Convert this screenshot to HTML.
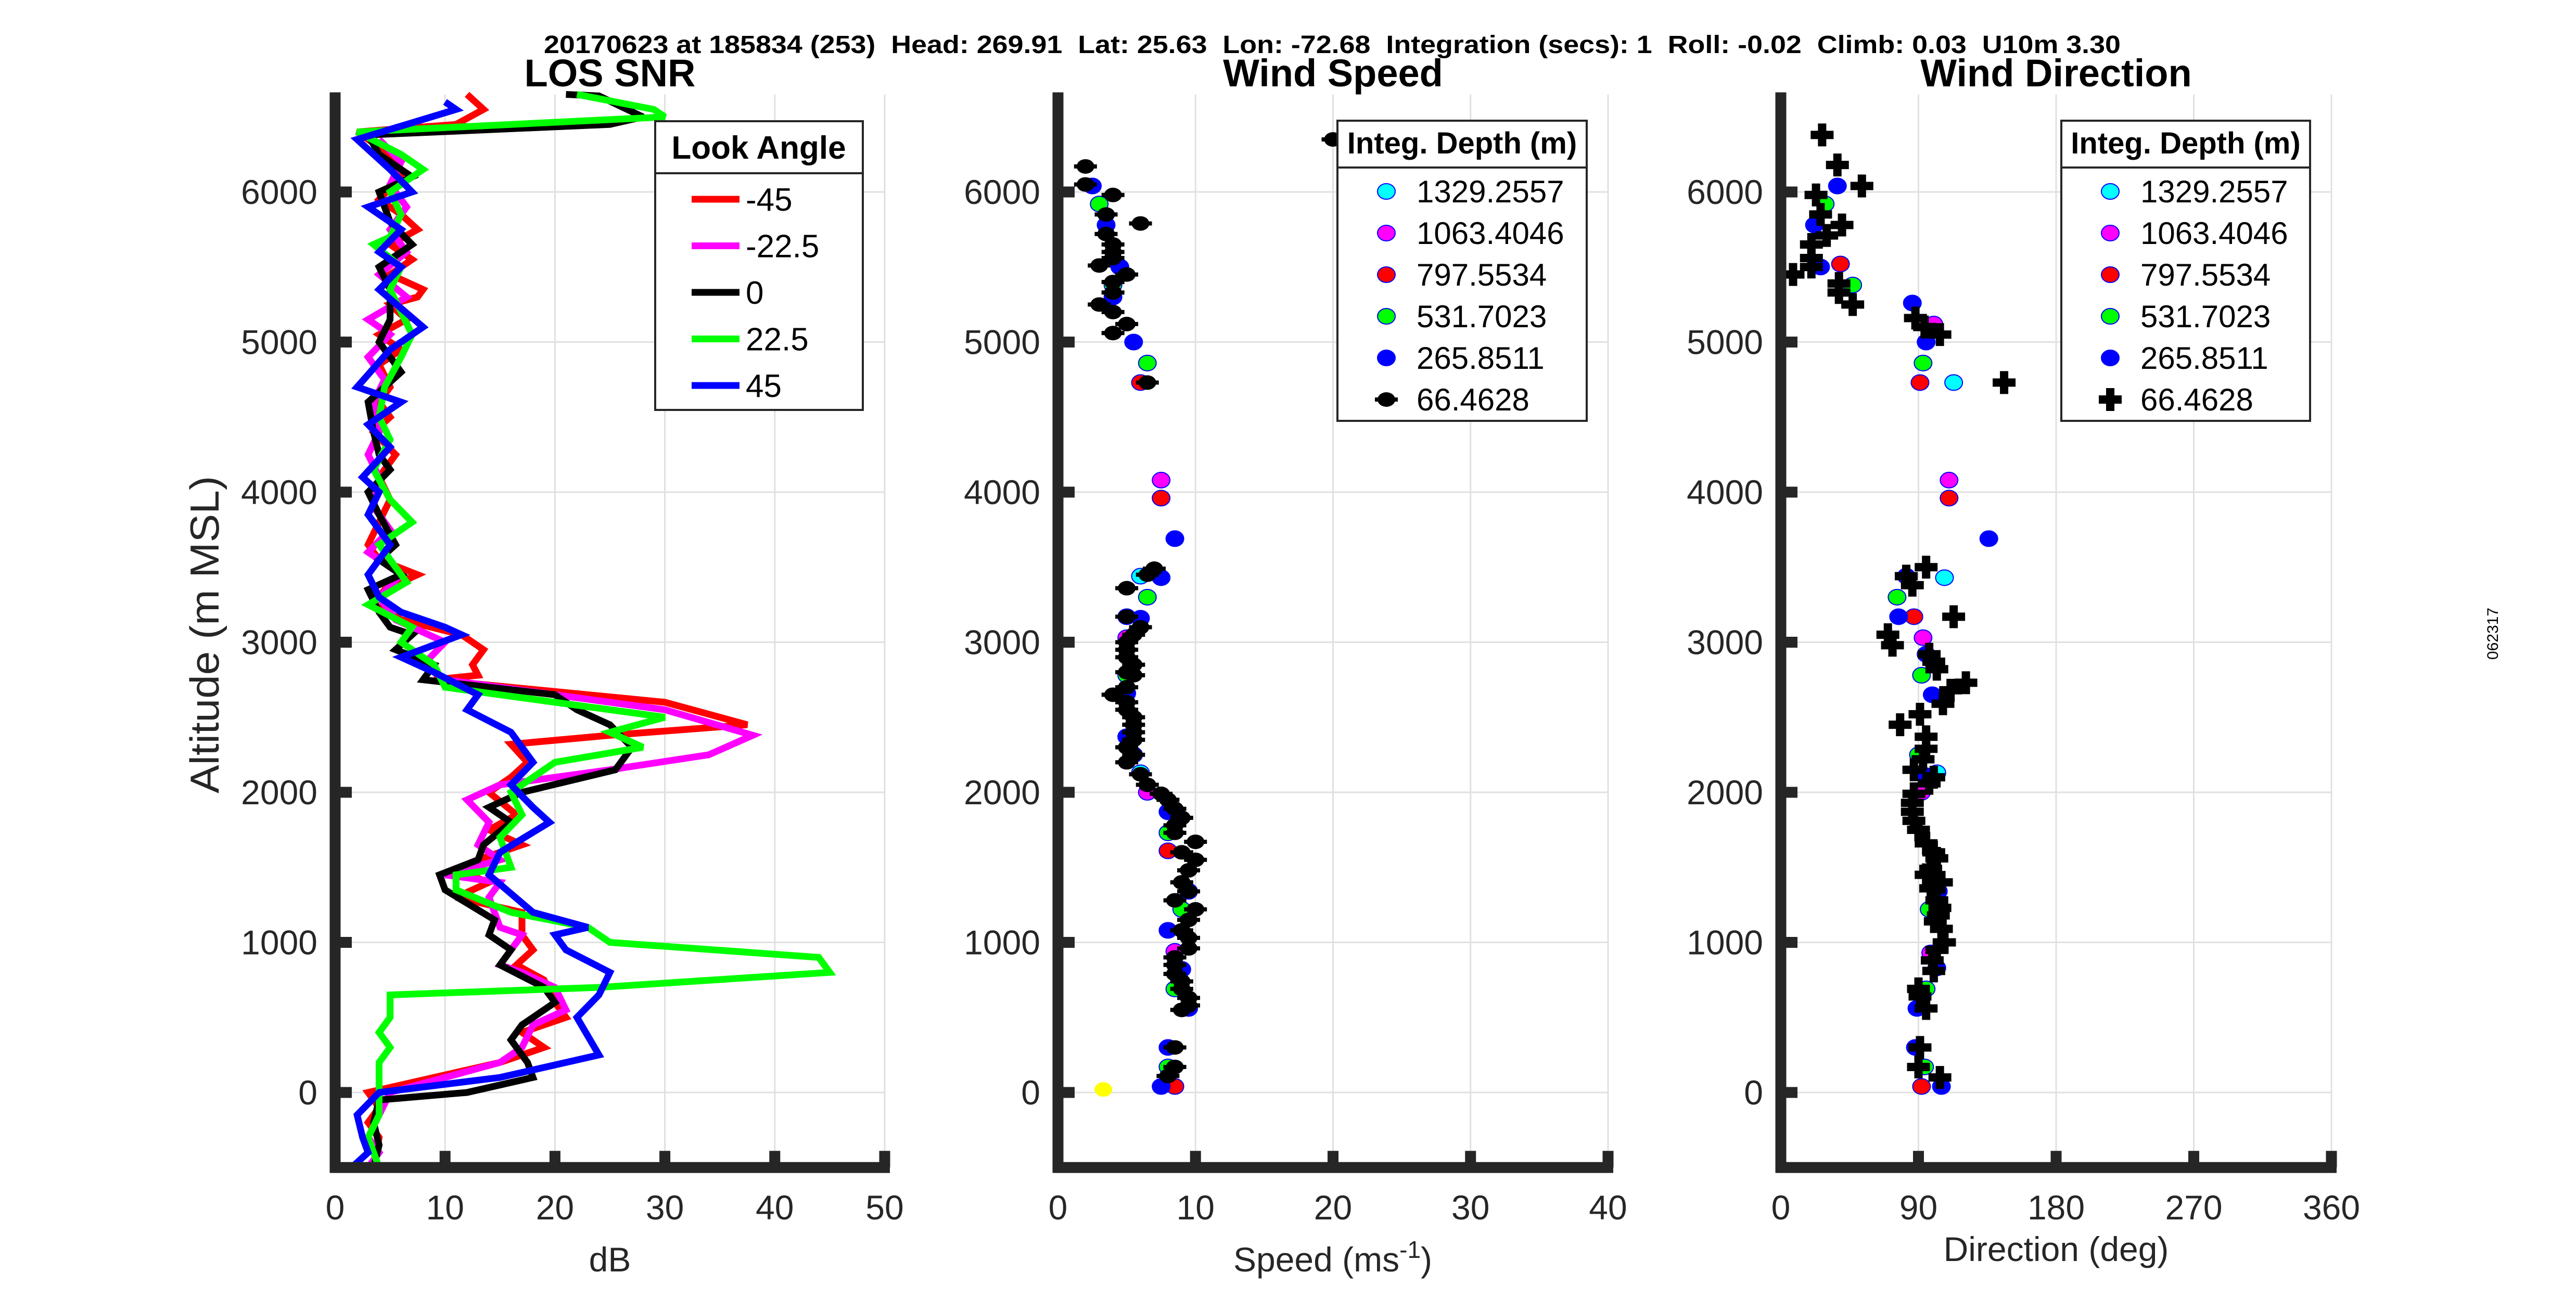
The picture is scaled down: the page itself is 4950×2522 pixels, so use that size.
<!DOCTYPE html>
<html><head><meta charset="utf-8"><style>
html,body{margin:0;padding:0;background:#fff;}
svg{display:block;font-family:"Liberation Sans",Arial,sans-serif;}
</style></head><body>
<svg id="fig" width="4950" height="2522" viewBox="0 0 4950 2522" xmlns="http://www.w3.org/2000/svg">
<rect x="0" y="0" width="4950" height="2522" fill="#fff"/>
<text x="2560" y="102" font-size="48" font-weight="bold" text-anchor="middle" textLength="3030" lengthAdjust="spacingAndGlyphs" xml:space="preserve">20170623 at 185834 (253)  Head: 269.91  Lat: 25.63  Lon: -72.68  Integration (secs): 1  Roll: -0.02  Climb: 0.03  U10m 3.30</text>
<text x="4800" y="1218" font-size="30" text-anchor="middle" transform="rotate(-90 4800 1218)">062317</text>
<g id="g1"></g>
<g id="g2"></g>
<g id="g3"></g>
</svg>
<script>
// ---- data ----
const snrRed=[[12,6650],[13.5,6550],[11,6450],[2,6400],[5,6250],[6,6100],[4,5950],[6,5850],[7.5,5750],[5,5650],[7,5550],[5,5450],[8,5350],[7.5,5300],[5,5250],[6.5,5150],[4,5050],[6,4950],[4,4850],[5,4700],[4,4600],[5,4500],[3.5,4400],[5.5,4250],[4,4100],[5,3950],[4,3800],[3,3650],[4,3550],[7.5,3450],[4.5,3350],[3.5,3250],[6,3150],[11.5,3050],[13.5,2950],[12.5,2850],[13,2780],[9,2750],[30,2600],[37.5,2450],[25,2380],[16,2320],[17.5,2200],[16,2100],[14,2000],[16.5,1850],[14,1750],[17,1650],[13,1550],[11,1480],[14,1400],[11,1300],[17,1200],[17,1050],[18,950],[16.5,850],[19,750],[20,600],[21,500],[17,400],[19,300],[15,200],[3,0],[4,-100],[3,-200],[4,-300],[3.5,-500]];
const snrMagenta=[[4,6350],[6,6200],[5,6050],[6.5,5900],[5,5750],[6.5,5600],[4,5450],[6.5,5300],[3,5150],[5,5050],[3,4900],[4.5,4750],[3.5,4600],[4,4400],[3,4250],[4,4100],[3.5,3900],[5,3750],[3,3600],[6,3450],[4,3300],[5.5,3150],[10,3000],[8,2850],[10,2750],[30,2550],[38,2380],[34,2250],[25,2150],[15,2050],[12,1950],[14,1800],[13,1650],[15,1550],[10,1450],[15,1400],[14,1300],[15,1100],[17,1050],[15,850],[17,800],[20,700],[21,550],[18,450],[17,300],[15,200],[5,0],[4,-150],[3,-300],[4,-400],[3,-500]];
const snrBlack=[[21,6650],[24,6640],[28,6500],[25,6450],[3,6380],[4,6250],[7,6100],[4,6000],[5,5800],[7,5650],[4,5500],[5,5350],[5,5150],[4,5000],[6,4800],[3,4600],[3.5,4400],[4,4250],[5,4150],[3,4000],[4,3850],[5.5,3650],[4,3550],[6,3450],[3,3350],[4,3200],[5,3100],[7,3050],[5.5,2950],[9,2850],[8,2750],[20,2650],[22,2550],[25,2450],[27,2300],[25.5,2150],[17,2000],[14,1900],[16,1800],[13.5,1650],[13,1550],[9.5,1450],[10,1350],[14.5,1150],[14,1050],[16,950],[15,850],[19,700],[20,600],[17,450],[16,350],[17.5,200],[18,100],[12,0],[4,-50],[3.5,-200],[4,-350],[3.5,-500]];
const snrGreen=[[22,6650],[29,6550],[30,6500],[2,6400],[6,6250],[8,6150],[5,6000],[6,5850],[5,5700],[3.5,5650],[6,5500],[5,5350],[6,5200],[7,5050],[6,4900],[4.5,4700],[4,4500],[5,4350],[3.5,4150],[5,3950],[7,3800],[4,3650],[6.5,3400],[3,3250],[7,3100],[6,3000],[9,2850],[10,2700],[20,2600],[30,2500],[25,2400],[28,2300],[20,2200],[16,2000],[17,1850],[15,1700],[16,1500],[11,1450],[11,1350],[16,1200],[23,1100],[25,1000],[44,900],[45,800],[24,700],[5,650],[5,500],[4,400],[5,300],[4,200],[4,50],[4,-150],[3,-300],[4,-500]];
const snrBlue=[[10,6600],[11,6550],[2,6350],[5,6150],[7,6000],[3,5900],[6,5750],[4,5600],[6,5500],[4,5350],[8,5100],[5,4950],[2,4700],[6,4600],[3,4450],[5,4300],[2.5,4100],[4,4000],[3,3850],[5,3650],[3,3450],[4,3300],[6,3200],[10,3100],[11.5,3050],[6,2900],[9,2800],[13,2650],[12,2550],[16,2400],[18,2200],[16,2050],[18,1900],[19.5,1800],[15,1600],[14,1450],[18,1200],[23,1100],[20,1050],[21,950],[25,800],[24,650],[22,500],[24,250],[15,100],[4,0],[2,-150],[2.5,-300],[3,-400],[1.5,-500]];
const snrNames=["-45","-22.5","0","22.5","45"];
const yTicks=[0,1000,2000,3000,4000,5000,6000];
const snrTicks=[0,10,20,30,40,50];
const spdTicks=[0,10,20,30,40];
const dirTicks=[0,90,180,270,360];
const depthNames=["1329.2557","1063.4046","797.5534","531.7023","265.8511","66.4628"];
const spdBlack=[[20,6350],[2,6170],[2,6050],[4,5980],[6,5790],[3.5,5850],[3.5,5720],[4,5650],[4,5600],[3,5510],[4,5560],[5,5450],[4,5400],[4,5330],[3,5250],[4,5200],[5,5120],[4,5060],[6.5,4730],[7,3490],[6.5,3450],[5,3360],[5,3170],[6,3100],[5.5,3050],[5,3000],[5,2950],[5,2900],[5.5,2850],[5,2800],[5.5,2780],[5,2700],[4,2650],[5,2600],[5,2550],[5.5,2500],[5.5,2450],[5.5,2400],[5.5,2350],[5,2300],[5.5,2250],[5,2200],[6,2120],[6.5,2050],[7.5,1990],[8,1950],[8.5,1890],[9,1830],[8.5,1780],[8.5,1730],[10,1670],[9,1600],[10,1550],[9.5,1480],[9,1400],[9.5,1340],[8.5,1280],[10,1220],[9.5,1150],[9,1080],[9.5,1030],[9.5,960],[8.5,900],[8.5,850],[8.5,790],[9,740],[9,690],[9.5,630],[9.5,580],[9,550],[8.5,300],[8.5,170],[8,110]];
const spdCyan=[[6,3440],[6,2130]];
const spdMagenta=[[7.5,4080],[8.5,940],[5,3030],[6.5,2000]];
const spdRed=[[7.5,3960],[6,4730],[5,3170],[8,1610],[8.5,40]];
const spdGreen=[[3,5920],[4,5380],[6.5,4860],[6.5,3300],[8,1730],[9,1220],[8.5,690],[8,170],[5,2780],[5.5,2250]];
const spdBlue=[[2.5,6040],[3.5,5780],[4.5,5500],[4,5300],[5.5,5000],[8.5,3690],[7.5,3430],[6,3160],[5,2660],[5,2370],[8,1870],[9.5,1340],[8,1080],[9,820],[9.5,560],[8,300],[7.5,40]];
const spdYellow=[[3.3,20]];
const dirBlack=[[27,6380],[37,6180],[53,6040],[23,5980],[26,5850],[40,5780],[30,5710],[20,5650],[20,5560],[20,5500],[8,5450],[38,5390],[38,5330],[47,5250],[88,5160],[94,5100],[104,5050],[146,4730],[95,3500],[82,3440],[86,3380],[113,3170],[70,3050],[73,2980],[97,2920],[100,2870],[102,2820],[121,2730],[111,2680],[106,2590],[91,2520],[78,2450],[95,2370],[95,2290],[93,2220],[87,2150],[100,2100],[97,2060],[87,1990],[86,1930],[86,1870],[87,1810],[90,1750],[95,1660],[100,1600],[102,1560],[98,1490],[95,1450],[105,1400],[98,1360],[102,1280],[104,1230],[103,1180],[101,1140],[105,1090],[107,1000],[102,950],[99,880],[100,810],[90,690],[91,640],[95,560],[91,300],[90,170],[104,100]];
const dirCyan=[[113,4730],[107,3430],[102,2130]];
const dirMagenta=[[100,5120],[110,4080],[93,3030],[98,930],[92,2000]];
const dirRed=[[39,5520],[91,4730],[110,3960],[87,3170],[92,40]];
const dirGreen=[[29,5920],[47,5380],[93,4860],[76,3300],[92,2780],[90,2250],[97,1220],[95,690],[94,170]];
const dirBlue=[[37,6040],[22,5780],[26,5500],[86,5260],[95,5000],[136,3690],[82,3440],[77,3170],[95,2920],[99,2650],[95,2110],[103,1340],[102,830],[89,560],[88,300],[105,40]];

// ---- drawing ----
const NS="http://www.w3.org/2000/svg";
function mk(tag,attrs,parent){const e=document.createElementNS(NS,tag);for(const k in attrs)e.setAttribute(k,attrs[k]);parent.appendChild(e);return e;}
const Y0=2100, PER=0.2885, YMIN=-500, YMAX=6650;
function yScale(a){return Y0-a*PER;}
const TOP=yScale(YMAX), BOT=yScale(YMIN);
function makeAxis(g,x0,x1,xmax,xticks){
  const xs=v=>x0+(x1-x0)*v/xmax;
  xticks.forEach(t=>{const l=mk('line',{x1:xs(t),x2:xs(t),y1:TOP,y2:BOT,stroke:'#e0e0e0','stroke-width':3},g);
    });
  yTicks.forEach(t=>{const l=mk('line',{x1:x0,x2:x1,y1:yScale(t),y2:yScale(t),stroke:'#e0e0e0','stroke-width':3},g);
    });
  return xs;
}
function frame(g,x0,x1,xmax,xticks,xs,title){
  const ax=mk('g',{},g);
  
  mk('line',{x1:x0,x2:x0,y1:TOP-4,y2:BOT+10,stroke:'#262626','stroke-width':21},ax);
  mk('line',{x1:x0-10,x2:x1+10,y1:BOT,y2:BOT,stroke:'#262626','stroke-width':21},ax);
  yTicks.forEach(t=>{mk('line',{x1:x0,x2:x0+32,y1:yScale(t),y2:yScale(t),stroke:'#262626','stroke-width':21},ax);
    const tx=mk('text',{x:x0-34,y:yScale(t)+23,'font-size':66,'text-anchor':'end',fill:'#262626'},ax);tx.textContent=t;
    });
  xticks.forEach(t=>{if(t>0)mk('line',{x1:xs(t),x2:xs(t),y1:BOT,y2:BOT-32,stroke:'#262626','stroke-width':21},ax);
    const tx=mk('text',{x:xs(t),y:2344,'font-size':66,'text-anchor':'middle',fill:'#262626'},ax);tx.textContent=t;
    });
  const ti=mk('text',{x:(x0+x1)/2,y:166,'font-size':74,'font-weight':'bold','text-anchor':'middle',fill:'#000'},g);ti.textContent=title;
  
  return ax;
}
// Panel 1
const g1=document.getElementById('g1');
const X1a=644,X1b=1700;
const xs1=makeAxis(g1,X1a,X1b,50,snrTicks);
const cols=['#ff0000','#ff00ff','#000000','#00ff00','#0000ff'];
[snrRed,snrMagenta,snrBlack,snrGreen,snrBlue].forEach((s,i)=>{
  const p=mk('polyline',{points:s.map(d=>xs1(d[0])+','+yScale(d[1])).join(' '),fill:'none',stroke:cols[i],'stroke-width':13,'stroke-linejoin':'miter','stroke-miterlimit':3},g1);
  
  
});
frame(g1,X1a,X1b,50,snrTicks,xs1,'LOS SNR');
const xl1=mk('text',{x:1172,y:2444,'font-size':66,'text-anchor':'middle',fill:'#262626'},g1);xl1.textContent='dB';

const yl=mk('text',{x:420,y:1220,'font-size':78,'text-anchor':'middle',fill:'#262626',transform:'rotate(-90 420 1220)',textLength:610,lengthAdjust:'spacingAndGlyphs'},g1);yl.textContent='Altitude (m MSL)';

// legend 1
const lg1=mk('g',{},g1);

mk('rect',{x:1259,y:233,width:399,height:555,fill:'#fff',stroke:'#262626','stroke-width':4},lg1);
mk('line',{x1:1259,x2:1658,y1:333,y2:333,stroke:'#262626','stroke-width':4},lg1);
const lt1=mk('text',{x:1458,y:305,'font-size':62,'font-weight':'bold','text-anchor':'middle'},lg1);lt1.textContent='Look Angle';

snrNames.forEach((n,i)=>{const y=383+i*89.5;
  const e=mk('g',{},lg1);
  
  
  mk('line',{x1:1329,x2:1421,y1:y,y2:y,stroke:cols[i],'stroke-width':13},e);
  const t=mk('text',{x:1433,y:y+22,'font-size':62},e);t.textContent=n;});
// scatter helpers
function circ(g,x,y,fill,name){const c=mk('ellipse',{cx:x,cy:y,rx:17,ry:15,fill:fill,stroke:'#0000ff','stroke-width':2},g);
  return c;}
function cross(g,x,y,name){const c=mk('path',{d:`M${x-22},${y-8}h14v-14h16v14h14v16h-14v14h-16v-14h-14z`,fill:'#000'},g);
  return c;}
function dot(g,x,y,name){const c=mk('ellipse',{cx:x,cy:y,rx:17,ry:14,fill:'#000'},g);
  mk('rect',{x:x-22,y:y-4,width:44,height:8,fill:'#000'},g);
  return c;}
const scCols=['#00ffff','#ff00ff','#ff0000','#00ff00','#0000ff'];
function legend2(g,x0,x1,crossMk){
  const lg=mk('g',{},g);
  
  
  mk('rect',{x:x0,y:232,width:x1-x0,height:577,fill:'#fff',stroke:'#262626','stroke-width':4},lg);
  mk('line',{x1:x0,x2:x1,y1:322,y2:322,stroke:'#262626','stroke-width':4},lg);
  const t=mk('text',{x:(x0+x1)/2,y:295,'font-size':58,'font-weight':'bold','text-anchor':'middle'},lg);t.textContent='Integ. Depth (m)';
  
  depthNames.forEach((n,i)=>{const y=368+i*80;const mx=x0+94;
    const e=mk('g',{},lg);
    
    
    if(i<5)circ(e,mx,y,scCols[i],'legend-marker');else if(crossMk)cross(e,mx,y,'legend-marker');else dot(e,mx,y,'legend-marker');
    const tx=mk('text',{x:x0+152,y:y+21,'font-size':60},e);tx.textContent=n;});
}
// Panel 2
const g2=document.getElementById('g2');
const X2a=2033,X2b=3090;
const xs2=makeAxis(g2,X2a,X2b,40,spdTicks);
[spdCyan,spdMagenta,spdRed,spdGreen,spdBlue].forEach((s,i)=>s.forEach(d=>circ(g2,xs2(d[0]),yScale(d[1]),scCols[i],'speed-point')));
spdBlack.forEach(d=>dot(g2,xs2(d[0]),yScale(d[1]),'speed-point-66m'));
spdYellow.forEach(d=>{const c=mk('ellipse',{cx:xs2(d[0]),cy:yScale(d[1]),rx:17,ry:14,fill:'#ffff00'},g2);
  });
frame(g2,X2a,X2b,40,spdTicks,xs2,'Wind Speed');
const xl2=mk('text',{x:2561,y:2444,'font-size':66,'text-anchor':'middle',fill:'#262626'},g2);
xl2.innerHTML='Speed (ms<tspan dy="-26" font-size="46">-1</tspan><tspan dy="26">)</tspan>';

legend2(g2,2570,3049,false);
// Panel 3
const g3=document.getElementById('g3');
const X3a=3422,X3b=4480;
const xs3=makeAxis(g3,X3a,X3b,360,dirTicks);
[dirCyan,dirMagenta,dirRed,dirGreen,dirBlue].forEach((s,i)=>s.forEach(d=>circ(g3,xs3(d[0]),yScale(d[1]),scCols[i],'direction-point')));
dirBlack.forEach(d=>cross(g3,xs3(d[0]),yScale(d[1]),'direction-point-66m'));
frame(g3,X3a,X3b,360,dirTicks,xs3,'Wind Direction');
const xl3=mk('text',{x:3951,y:2424,'font-size':66,'text-anchor':'middle',fill:'#262626'},g3);xl3.textContent='Direction (deg)';

legend2(g3,3961,4439,true);
</script>
</body></html>
